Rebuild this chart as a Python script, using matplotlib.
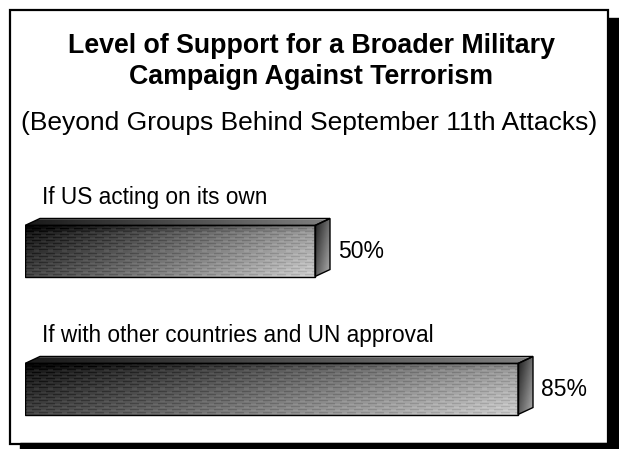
import numpy as np
import matplotlib.pyplot as plt
from matplotlib.patches import Rectangle, Polygon

plt.rcParams['font.family'] = ['Liberation Sans', 'DejaVu Sans']

# survey results
categories = ["If US acting on its own", "If with other countries and UN approval"]
support = [50, 85]
value_labels = ["50%", "85%"]

title_lines = ["Level of Support for a Broader Military", "Campaign Against Terrorism"]
subtitle = "(Beyond Groups Behind September 11th Attacks)"

W, H = 619, 449
fig = plt.figure(figsize=(W / 100, H / 100), dpi=100)

# full-figure axes in pixel units for frame and titles
bg = fig.add_axes([0, 0, 1, 1])
bg.set_xlim(0, W)
bg.set_ylim(H, 0)
bg.axis('off')

# shadowed frame
bg.add_patch(Rectangle((608, 18), 12, H - 18, color='black', zorder=1))
bg.add_patch(Rectangle((20, 443), W - 20, 7, color='black', zorder=1))
bg.add_patch(Rectangle((9.5, 9.5), 598.5, 434, fill=False, ec='black', lw=1.6, zorder=2))

bg.text(311, 46, title_lines[0], ha='center', va='center', fontsize=19.3, fontweight='bold')
bg.text(311, 77, title_lines[1], ha='center', va='center', fontsize=19.3, fontweight='bold')
bg.text(309, 123, subtitle, ha='center', va='center', fontsize=19)

# bar axes: x in percent, y in category slots
x0_px, px_per_pct = 25, 5.8
top_px, bot_px = 140, 440
slot_px = 138
ax = fig.add_axes([x0_px / W, 1 - bot_px / H, 100 * px_per_pct / W, (bot_px - top_px) / H])
ax.set_xlim(0, 100)
y_top = -(251 - top_px) / slot_px
y_bot = 1 + (bot_px - 389) / slot_px
ax.set_ylim(y_bot, y_top)
ax.axis('off')

bar_h = 0.37
dx = 15 / px_per_pct
dy = 7 / slot_px


def texture(nr, nc):
    # diagonal dark-to-light gradient with a dashed horizontal grain
    yy, xx = np.mgrid[0:nr, 0:nc]
    g = 0.06 + 0.53 * (xx / nc) + 0.22 * (yy / nr)
    g[:6, :] -= 0.05
    rows = yy % 3
    dash = ((xx + 7 * (yy // 3)) % 14) < 9
    g = g - 0.08 * ((rows == 0) & dash) + 0.04 * ((rows == 1) & ~dash)
    return np.clip(g, 0, 1)


for i, (cat, val, lab) in enumerate(zip(categories, support, value_labels)):
    yt, yb = i - bar_h / 2, i + bar_h / 2

    # front face
    npx = int(val * px_per_pct)
    ax.imshow(texture(51, npx), cmap='gray', vmin=0, vmax=1, aspect='auto',
              extent=[0, val, yb, yt], interpolation='nearest', zorder=2)
    ax.add_patch(Rectangle((0, yt), val, bar_h, fill=False, ec='black', lw=1.0, zorder=4))

    # top face
    top_poly = Polygon([(0, yt), (val, yt), (val + dx, yt - dy), (dx, yt - dy)],
                       closed=True, fc='none', ec='black', lw=1.0, zorder=4)
    ax.add_patch(top_poly)
    grad = np.linspace(0.1, 0.5, 200)[None, :] * np.ones((8, 1))
    grad[:2, :] = np.minimum(grad[:2, :] + 0.25, 1)
    tim = ax.imshow(grad, cmap='gray', vmin=0, vmax=1, aspect='auto',
                    extent=[0, val + dx, yt, yt - dy], zorder=3)
    tim.set_clip_path(Polygon(top_poly.get_xy(), transform=ax.transData))

    # side face
    side_poly = Polygon([(val, yt), (val + dx, yt - dy), (val + dx, yb - dy), (val, yb)],
                        closed=True, fc='none', ec='black', lw=1.0, zorder=4)
    ax.add_patch(side_poly)
    sg = np.linspace(0.12, 0.42, 16)[None, :] + np.linspace(0, 0.25, 50)[:, None]
    sim = ax.imshow(np.clip(sg, 0, 1), cmap='gray', vmin=0, vmax=1, aspect='auto',
                    extent=[val, val + dx, yb, yt - dy], zorder=3)
    sim.set_clip_path(Polygon(side_poly.get_xy(), transform=ax.transData))

    # labels
    ax.text(val + dx + 1.4, i, lab, ha='left', va='center', fontsize=16.5)
    ax.text(16.5 / px_per_pct, i - 0.39, cat, ha='left', va='center', fontsize=16.3)

fig.savefig('out.png', dpi=100)
